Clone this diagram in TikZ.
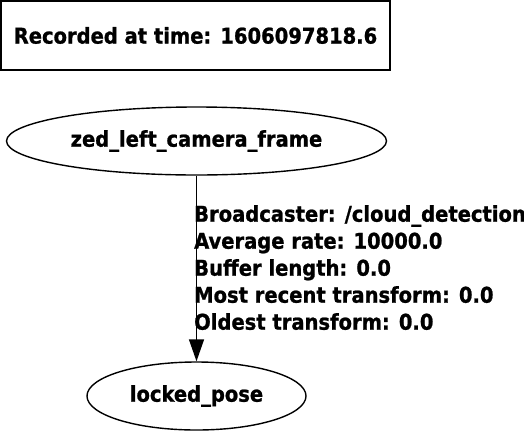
\documentclass[tikz,border=0pt]{standalone}
\usepackage{fontspec}
\setmainfont[BoldFeatures={FakeBold=1}]{DejaVu Sans Condensed}
\usetikzlibrary{shapes.geometric,arrows.meta}
\begin{document}
\begin{tikzpicture}[x=1pt,y=1pt,
  lbl/.style={font=\fontsize{21.7}{27}\selectfont\bfseries},
  framebox/.style={draw,line width=1.6pt,minimum width=389pt,minimum height=69pt,inner sep=0pt,lbl},
  tfnode/.style={draw,ellipse,line width=1.4pt,minimum height=68pt,inner sep=0pt,lbl},
  edgelabel/.style={lbl,align=left,inner sep=0pt,anchor=north west}
]
\useasboundingbox (0,0) rectangle (524,-432);
\node[framebox] (title) at (195.5,-35.5) {Recorded at time: 1606097818.6};
\node[tfnode,minimum width=380pt] (cam) at (196.5,-141) {zed\_left\_camera\_frame};
\node[tfnode,minimum width=219pt] (pose) at (196.5,-396) {locked\_pose};
\draw[line width=1.4pt,-{Triangle[length=22pt,width=15pt]}] (cam) -- (pose);
\node[edgelabel] (info) at (194,-205) {Broadcaster: /cloud\_detection\\Average rate: 10000.0\\Buffer length: 0.0\\Most recent transform: 0.0\\Oldest transform: 0.0};
\end{tikzpicture}
\end{document}
